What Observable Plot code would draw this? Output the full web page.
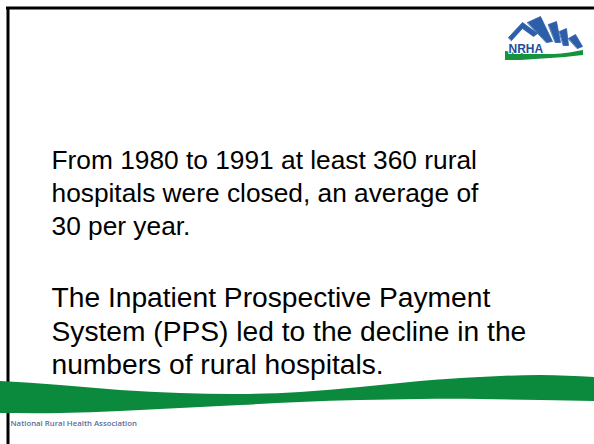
<!DOCTYPE html>
<html>
<head>
<meta charset="utf-8">
<script src="https://cdn.jsdelivr.net/npm/d3@7"></script>
<script src="https://cdn.jsdelivr.net/npm/@observablehq/plot@0.6"></script>
<style>
  html, body { margin: 0; padding: 0; background: #ffffff; }
</style>
</head>
<body>
<div id="chart"></div>
<script>
// ---- slide text ----
const paragraph1 = ["From 1980 to 1991 at least 360 rural", "hospitals were closed, an average of", "30 per year."];
const paragraph2 = ["The Inpatient Prospective Payment", "System (PPS) led to the decline in the", "numbers of rural hospitals."];
const footerText = ["National Rural Health Association"];
const logoText = ["NRHA"];

// ---- decorative shapes (slide coordinates) ----
const waveX      = [0,   60,  120, 180, 240, 300, 360, 420, 480, 540, 594];
const waveTop    = [381, 385, 390, 393, 394, 392, 387, 381, 377, 375, 377];
const waveBottom = [413, 413, 411, 408, 405, 402, 400, 399, 399, 400, 401];

const swooshX      = [505, 520, 535, 550, 565, 583];
const swooshTop    = [51,  53,  54,  54,  53,  50];
const swooshBottom = [60,  60,  59,  58,  57,  55];

const rayIds = ["roof","roof","roof","roof","roof","roof",
                "r1","r1","r1","r1",
                "r2","r2","r2","r2",
                "r3","r3","r3","r3",
                "r4","r4","r4","r4"];
const rayX = [508,522,537,533,522,511,
              527,540,552,546,
              548,556,560,555,
              559,566,568,563,
              568,575,582,577];
const rayY = [37,22,33,36,28,40,
              22,16,41,42,
              24,21,42,42,
              31,28,45,45,
              38,34,46,48];

const textRows = [
  ...paragraph1.map((t, i) => ({text: t, line: i, size: 26.3})),
  ...paragraph2.map((t, i) => ({text: t, line: i + 4.15, size: 28.2}))
];
const wave = waveX.map((x, i) => ({x, top: waveTop[i], bottom: waveBottom[i]}));
const swoosh = swooshX.map((x, i) => ({x, top: swooshTop[i], bottom: swooshBottom[i]}));
const rays = rayX.map((x, i) => ({x, y: rayY[i], id: rayIds[i]}));

const W = 594, H = 444;
const chart = Plot.plot({
  width: W,
  height: H,
  margin: 0,
  x: {domain: [0, W], range: [0, W], axis: null},
  y: {domain: [0, H], range: [0, H], axis: null},
  style: {background: "#ffffff", fontFamily: "Liberation Sans, Arial, sans-serif"},
  marks: [
    // slide frame
    Plot.ruleX([7.5], {y1: 7.5, y2: H, stroke: "#000000", strokeWidth: 3}),
    Plot.ruleY([7.5], {x1: 6, x2: W, stroke: "#000000", strokeWidth: 3}),
    // green wave band
    Plot.areaY(wave, {x: "x", y1: "top", y2: "bottom", fill: "#0b8a3d", curve: "natural"}),
    // logo
    Plot.line(rays, {x: "x", y: "y", z: "id", fill: "#2c5ea9", stroke: "#2c5ea9", strokeWidth: 0.8, curve: "linear-closed"}),
    Plot.areaY(swoosh, {x: "x", y1: "top", y2: "bottom", fill: "#16943d", curve: "natural"}),
    Plot.text(logoText, {x: 508, y: 52, text: d => d, textAnchor: "start", lineAnchor: "bottom",
      fontSize: 12, fontWeight: "bold", fill: "#234d98", stroke: "#ffffff", strokeWidth: 2, paintOrder: "stroke",
      fontFamily: "Liberation Sans, Arial, sans-serif"}),
    // body text
    Plot.text(textRows, {x: 51, y: d => 168 + d.line * 33.4, text: "text", textAnchor: "start", lineAnchor: "bottom",
      fontSize: "size", fill: "#000000", fontFamily: "Liberation Sans, Arial, sans-serif"}),
    // footer
    Plot.text(footerText, {x: 10, y: 425, text: d => d, textAnchor: "start", lineAnchor: "bottom",
      fontSize: 7.8, fontWeight: 600, fill: "#5a6d96", fontFamily: "Open Sans, sans-serif"})
  ]
});
document.getElementById("chart").appendChild(chart);
</script>
</body>
</html>
